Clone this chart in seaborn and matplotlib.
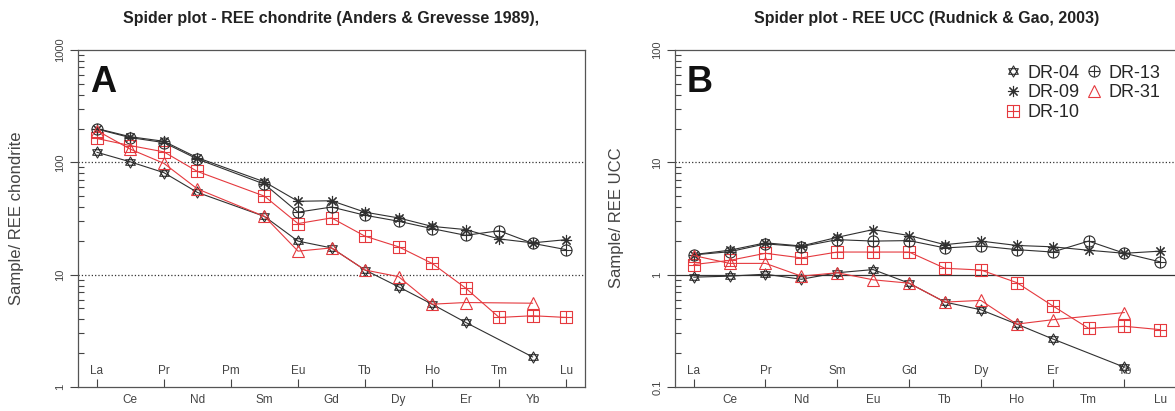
import numpy as np
import pandas as pd
import matplotlib
matplotlib.use("Agg")
import matplotlib.pyplot as plt
import seaborn as sns
from matplotlib.path import Path
from matplotlib.lines import Line2D
from matplotlib.ticker import FixedLocator, NullFormatter

# ---------------- data ----------------
elements_a = ['La', 'Ce', 'Pr', 'Nd', 'Pm', 'Sm', 'Eu', 'Gd', 'Tb', 'Dy', 'Ho', 'Er', 'Tm', 'Yb', 'Lu']
elements_b = ['La', 'Ce', 'Pr', 'Nd', 'Sm', 'Eu', 'Gd', 'Tb', 'Dy', 'Ho', 'Er', 'Tm', 'Yb', 'Lu']
nan = np.nan
samples = ['DR-04', 'DR-09', 'DR-10', 'DR-13', 'DR-31']

# chondrite normalised (panel A)
chon_dr04 = [123, 101, 81, 54, nan, 33, 19.9, 17.3, 11.0, 7.8, 5.46, 3.76, nan, 1.85, nan]
chon_dr09 = [200, 169, 154, 110, nan, 67, 45, 45.5, 36, 32, 26.9, 25.2, 20.8, 19.2, 20.5]
chon_dr10 = [163, 141, 124, 83, nan, 50, 28.5, 32, 22, 17.7, 12.6, 7.6, 4.16, 4.31, 4.16]
chon_dr13 = [198, 166, 150, 107, nan, 64, 36, 40, 33.8, 29.9, 25.7, 22.4, 24.6, 19.0, 16.7]
chon_dr31 = [192, 131, 98, 58, nan, 33, 16.2, 17.3, 11.0, 9.6, 5.46, 5.65, nan, 5.57, nan]

# UCC normalised (panel B)
ucc_dr04 = [0.95, 0.97, 1.01, 0.91, 1.04, 1.11, 0.84, 0.57, 0.487, 0.363, 0.268, nan, 0.15, nan]
ucc_dr09 = [1.51, 1.65, 1.92, 1.80, 2.15, 2.52, 2.23, 1.85, 1.99, 1.82, 1.77, 1.65, 1.55, 1.62]
ucc_dr10 = [1.23, 1.34, 1.55, 1.41, 1.59, 1.59, 1.59, 1.14, 1.10, 0.85, 0.528, 0.333, 0.347, 0.324]
ucc_dr13 = [1.50, 1.60, 1.88, 1.78, 2.05, 1.99, 2.01, 1.73, 1.80, 1.67, 1.59, 1.99, 1.55, 1.30]
ucc_dr31 = [1.48, 1.26, 1.26, 0.97, 1.04, 0.90, 0.84, 0.57, 0.59, 0.363, 0.397, nan, 0.46, nan]

yticks_a = [1, 10, 100, 1000]
yticklabels_a = ['1', '10', '100', '1000']
yticks_b = [0.1, 1, 10, 100]
yticklabels_b = ['0.1', '1', '10', '100']

title_a = 'Spider plot - REE chondrite (Anders & Grevesse 1989),'
title_b = 'Spider plot - REE UCC (Rudnick & Gao, 2003)'
ylabel_a = 'Sample/ REE chondrite'
ylabel_b = 'Sample/ REE UCC'

# ---------------- styles ----------------
BLACK = '#303030'
RED = '#e5393e'

tri_up = Path([(0, 1), (-0.866, -0.5), (0.866, -0.5), (0, 1)], [1, 2, 2, 79])
tri_dn = Path([(0, -1), (-0.866, 0.5), (0.866, 0.5), (0, -1)], [1, 2, 2, 79])
m_star = Path.make_compound_path(tri_up, tri_dn)
plus = Path([(-1, 0), (1, 0), (0, -1), (0, 1)], [1, 2, 1, 2])
sq = Path([(-1, -1), (1, -1), (1, 1), (-1, 1), (-1, -1)], [1, 2, 2, 2, 79])
m_sqplus = Path.make_compound_path(sq, plus)
m_cplus = Path.make_compound_path(Path.unit_circle(), plus)
m_ast = (8, 2, 0)

styles = {
    'DR-04': (BLACK, m_star),
    'DR-09': (BLACK, m_ast),
    'DR-10': (RED, m_sqplus),
    'DR-13': (BLACK, m_cplus),
    'DR-31': (RED, '^'),
}

sns.set_style('white')
plt.rcParams['font.family'] = ['Liberation Sans', 'DejaVu Sans']

fig = plt.figure(figsize=(11.75, 4.11), dpi=100)
W, H = 1175, 411
TOP, BOT = 50, 387
axA = fig.add_axes([78 / W, 1 - BOT / H, (585 - 78) / W, (BOT - TOP) / H])
axB = fig.add_axes([675 / W, 1 - BOT / H, (1179 - 675) / W, (BOT - TOP) / H])


def draw(ax, elements, series, yticks, yticklabels, refs):
    for name, vals in zip(samples, series):
        color, mk = styles[name]
        df = pd.DataFrame({'x': np.arange(len(elements)), 'v': vals}).dropna()
        sns.lineplot(data=df, x='x', y='v', ax=ax, color=color, marker=mk,
                     markersize=8, markerfacecolor='none', markeredgecolor=color,
                     markeredgewidth=0.8, linewidth=0.8, legend=False,
                     errorbar=None, sort=False)
    for yv, ls in refs:
        ax.axhline(yv, color='#333333', lw=0.9, ls=ls, zorder=0)
    ax.set_yscale('log')
    ax.set_ylim(yticks[0], yticks[-1])
    n = len(elements)
    pad = 0.04 * (n - 1)
    ax.set_xlim(-pad, n - 1 + pad)
    ax.yaxis.set_major_locator(FixedLocator(yticks))
    ax.set_yticklabels(yticklabels, rotation=90, va='center', fontsize=8, color='#444444')
    minors = []
    for d in yticks[:-1]:
        minors += [d * k for k in range(2, 10)]
    ax.yaxis.set_minor_locator(FixedLocator(minors))
    ax.yaxis.set_minor_formatter(NullFormatter())
    ax.tick_params(axis='y', which='major', direction='out', length=6, width=0.8,
                   color='#444444', pad=3, left=True)
    ax.tick_params(axis='y', which='minor', direction='in', length=4, width=0.8,
                   color='#444444', left=True)
    # x axis: alternate labels inside (minor) and below (major)
    xs = np.arange(n)
    ax.set_xticks(xs[1::2], [elements[i] for i in xs[1::2]])
    ax.set_xticks(xs[0::2], [elements[i] for i in xs[0::2]], minor=True)
    ax.tick_params(axis='x', which='major', length=0, pad=5, labelsize=8.5,
                   labelcolor='#444444', bottom=True)
    ax.tick_params(axis='x', which='minor', direction='in', length=6, width=0.8,
                   color='#444444', pad=-16, labelsize=8.5, labelcolor='#444444',
                   bottom=True)
    ax.set_xlabel('')
    ax.set_ylabel('')
    for s in ax.spines.values():
        s.set_color('#555555')
        s.set_linewidth(0.9)


draw(axA, elements_a, [chon_dr04, chon_dr09, chon_dr10, chon_dr13, chon_dr31],
     yticks_a, yticklabels_a, [(10, ':'), (100, ':')])
draw(axB, elements_b, [ucc_dr04, ucc_dr09, ucc_dr10, ucc_dr13, ucc_dr31],
     yticks_b, yticklabels_b, [(1, '-'), (10, ':')])

# panel letters
axA.text(90 / W, 1 - 92 / H, 'A', transform=fig.transFigure, fontsize=26,
         fontweight='bold', color='#111111', va='baseline', ha='left')
axB.text(687 / W, 1 - 92 / H, 'B', transform=fig.transFigure, fontsize=26,
         fontweight='bold', color='#111111', va='baseline', ha='left')

# titles
fig.text(331 / W, 1 - 19 / H, title_a, ha='center', va='center', fontsize=11.5,
         fontweight='bold', color='#222222')
fig.text(927 / W, 1 - 19 / H, title_b, ha='center', va='center', fontsize=11.5,
         fontweight='bold', color='#222222')

# y labels
fig.text(17 / W, 1 - 218 / H, ylabel_a, rotation=90, ha='center', va='center',
         fontsize=12, color='#444444')
fig.text(617 / W, 1 - 218 / H, ylabel_b, rotation=90, ha='center', va='center',
         fontsize=12, color='#444444')

# legend
handles = [Line2D([], [], color=styles[s][0], marker=styles[s][1], linestyle='none',
                  markersize=8, markerfacecolor='none', markeredgewidth=0.8)
           for s in samples]
fig.legend(handles, samples, loc='upper right', bbox_to_anchor=(1173 / W, 1 - 52 / H),
           ncol=2, frameon=False, fontsize=13, handlelength=0.8, handletextpad=0.4,
           columnspacing=0.4, labelspacing=0.15, borderpad=0.2)

fig.savefig('out.png', dpi=100)
